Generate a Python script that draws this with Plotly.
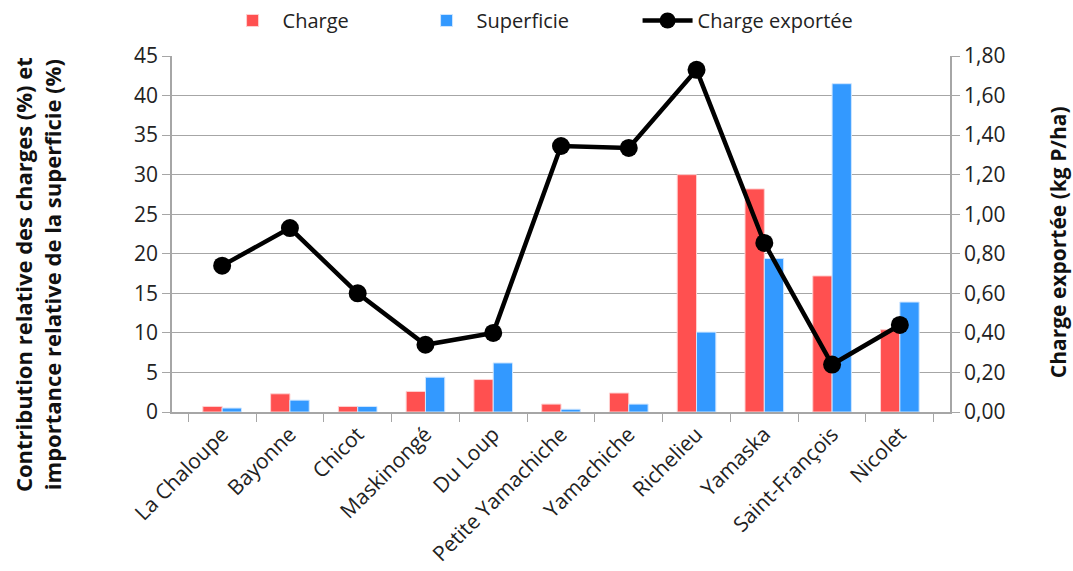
import plotly.graph_objects as go

# Rivières / bassins versants
rivieres = ["La Chaloupe", "Bayonne", "Chicot", "Maskinongé", "Du Loup",
            "Petite Yamachiche", "Yamachiche", "Richelieu", "Yamaska",
            "Saint-François", "Nicolet"]

# Contribution relative des charges (%)
charge = [0.7, 2.3, 0.7, 2.6, 4.1, 1.0, 2.4, 30.0, 28.2, 17.2, 10.4]

# Importance relative de la superficie (%)
superficie = [0.5, 1.5, 0.7, 4.4, 6.2, 0.35, 1.0, 10.1, 19.4, 41.5, 13.9]

# Charge exportée (kg P/ha)
charge_exportee = [0.74, 0.93, 0.60, 0.34, 0.40, 1.345, 1.335, 1.73, 0.855, 0.24, 0.44]

font_family = "Open Sans, Noto Sans, sans-serif"
grid_col = "#a6a6a6"

fig = go.Figure()
fig.add_trace(go.Bar(
    x=rivieres, y=charge, name="Charge", legendwidth=129,
    marker=dict(color="#ff5050", line=dict(color="#ffd0d0", width=1)),
))
fig.add_trace(go.Bar(
    x=rivieres, y=superficie, name="Superficie", legendwidth=156,
    marker=dict(color="#3399ff", line=dict(color="#cfe6ff", width=1)),
))
fig.add_trace(go.Scatter(
    x=rivieres, y=charge_exportee, name="Charge exportée", yaxis="y2",
    legendwidth=170, mode="lines+markers",
    line=dict(color="black", width=4.5),
    marker=dict(color="black", size=18),
))

# Axis titles placed as rotated annotations
fig.add_annotation(
    text="<b>Contribution relative des charges (%) et<br>importance relative de la superficie (%)</b>",
    xref="paper", yref="paper", x=-0.172, y=0.385,
    xanchor="center", yanchor="middle", textangle=-90, showarrow=False,
    font=dict(size=22, color="#111"),
)
fig.add_annotation(
    text="<b>Charge exportée (kg P/ha)</b>",
    xref="paper", yref="paper", x=1.138, y=0.478,
    xanchor="center", yanchor="middle", textangle=-90, showarrow=False,
    font=dict(size=21, color="#111"),
)

fig.update_layout(
    width=1073, height=571,
    margin=dict(l=172, r=123, t=56, b=159, autoexpand=False),
    plot_bgcolor="white", paper_bgcolor="white",
    font=dict(family=font_family, size=20, color="#222"),
    separators=", ",
    barmode="group", bargap=0.43, bargroupgap=0,
    showlegend=True,
    legend=dict(orientation="h", x=0.065, xanchor="left", y=1.045, yanchor="bottom",
                font=dict(size=20), traceorder="normal", itemwidth=50),
    xaxis=dict(
        type="category", tickangle=-45, tickson="boundaries",
        ticks="outside", ticklen=8, tickcolor=grid_col,
        showline=True, linecolor=grid_col, linewidth=1.5,
        tickfont=dict(size=21), showgrid=False, automargin=False,
    ),
    yaxis=dict(
        range=[0, 45], dtick=5, ticks="outside", ticklen=8, tickcolor=grid_col,
        showline=True, linecolor=grid_col, linewidth=1.5,
        showgrid=True, gridcolor=grid_col, gridwidth=1.2,
        tickfont=dict(size=21), zeroline=False, automargin=False,
    ),
    yaxis2=dict(
        overlaying="y", side="right", range=[0, 1.8], dtick=0.2, tickformat=".2f",
        ticks="outside", ticklen=8, tickcolor=grid_col,
        showline=True, linecolor=grid_col, linewidth=1.5,
        showgrid=False, zeroline=False, tickfont=dict(size=21), automargin=False,
    ),
)

fig.write_html("out.html")
